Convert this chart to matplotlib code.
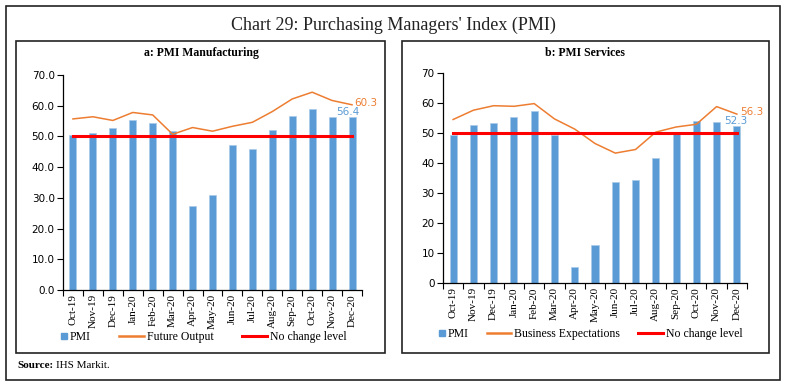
import matplotlib
matplotlib.use("Agg")
import matplotlib.pyplot as plt
import matplotlib.patches as mpatches
from matplotlib.lines import Line2D
from matplotlib.legend_handler import HandlerPatch

months = ["Oct-19", "Nov-19", "Dec-19", "Jan-20", "Feb-20", "Mar-20", "Apr-20",
          "May-20", "Jun-20", "Jul-20", "Aug-20", "Sep-20", "Oct-20", "Nov-20", "Dec-20"]

pmi_mfg = [50.6, 51.2, 52.7, 55.3, 54.5, 51.8, 27.4, 30.8, 47.2, 46.0, 52.0, 56.8, 58.9, 56.3, 56.4]
future_output = [55.7, 56.4, 55.2, 57.8, 57.0, 50.7, 52.9, 51.7, 53.3, 54.6, 58.1, 62.2, 64.4, 61.7, 60.3]

pmi_serv = [49.2, 52.7, 53.3, 55.5, 57.5, 49.3, 5.4, 12.6, 33.7, 34.2, 41.8, 49.8, 54.1, 53.7, 52.3]
business_exp = [54.5, 57.6, 59.1, 58.9, 59.8, 54.7, 51.3, 46.5, 43.3, 44.5, 50.3, 52.0, 52.9, 58.8, 56.3]

no_change = 50

BLUE = "#5B9BD5"
ORANGE = "#ED7D31"
RED = "#FF0000"
SERIF = "Liberation Serif"

W, H = 786, 389
fig = plt.figure(figsize=(W / 100, H / 100), dpi=100)


def box(x0, y0, x1, y1, lw=1.2):
    # pixel coords (top-left origin) -> figure fraction
    fig.patches.append(mpatches.Rectangle((x0 / W, 1 - y1 / H), (x1 - x0) / W, (y1 - y0) / H,
                                          transform=fig.transFigure, fill=False,
                                          edgecolor="#222222", linewidth=lw))


box(6, 6, 780, 380)
box(16, 41, 385, 353)
box(402, 41, 769, 353)

fig.text(393 / W, 1 - 25 / H, "Chart 29: Purchasing Managers' Index (PMI)", ha="center", va="center",
         fontsize=13, family=SERIF, color="#222222")
fig.text(201 / W, 1 - 53 / H, "a: PMI Manufacturing", ha="center", va="center",
         fontsize=8.5, family=SERIF, fontweight="bold")
fig.text(585 / W, 1 - 53 / H, "b: PMI Services", ha="center", va="center",
         fontsize=8.5, family=SERIF, fontweight="bold")
fig.text(17 / W, 1 - 366 / H, "Source:", ha="left", va="center",
         fontsize=8, family=SERIF, fontweight="bold")
fig.text(56 / W, 1 - 366 / H, "IHS Markit.", ha="left", va="center", fontsize=8, family=SERIF)


def square_handle(legend, orig_handle, xdescent, ydescent, width, height, fontsize):
    s = height * 0.75
    return mpatches.Rectangle((width - xdescent - s, -ydescent + (height - s) / 2), s, s)


def panel(rect, bars, line, line_name, fmt, bar_lab, line_lab, leg_y, colsp):
    ax = fig.add_axes(rect)
    x = list(range(len(months)))
    ax.bar(x, bars, width=0.35, color=BLUE, edgecolor="#A9CBEA", linewidth=0.5, label="PMI")
    ax.plot(x, line, color=ORANGE, lw=1.1, label=line_name)
    ax.plot([x[0], x[-1]], [no_change, no_change], color=RED, lw=2.2, label="No change level")
    ax.set_xlim(-0.5, len(months) - 0.5)
    ax.set_ylim(0, 70)
    ax.set_yticks(range(0, 71, 10))
    ax.set_yticklabels([fmt.format(v) for v in range(0, 71, 10)], fontsize=7.5, family="DejaVu Sans")
    ax.set_xticks(x)
    ax.set_xticklabels(months, rotation=90, fontsize=8, family=SERIF)
    ax.set_xticks([i - 0.5 for i in range(len(months) + 1)], minor=True)
    ax.tick_params(axis="x", which="major", length=0, pad=3)
    ax.tick_params(axis="x", which="minor", length=4, direction="out", width=0.8)
    ax.tick_params(axis="y", length=4, direction="out", width=0.8, pad=2)
    for s in ("top", "right"):
        ax.spines[s].set_visible(False)
    for s in ("left", "bottom"):
        ax.spines[s].set_linewidth(0.9)
    ax.text(x[-1] + bar_lab[0], bars[-1] + bar_lab[1], f"{bars[-1]:.1f}", color=BLUE,
            fontsize=7.5, ha="center", va="bottom", family="DejaVu Sans")
    ax.text(x[-1] + line_lab[0], line[-1] + line_lab[1], f"{line[-1]:.1f}", color=ORANGE,
            fontsize=7.5, ha="left", va="center", family="DejaVu Sans")
    handles = [mpatches.Patch(color=BLUE),
               Line2D([], [], color=ORANGE, lw=1.8),
               Line2D([], [], color=RED, lw=2.2)]
    ax.legend(handles, ["PMI", line_name, "No change level"], ncol=3, frameon=False,
              loc="center left", bbox_to_anchor=leg_y, prop={"family": SERIF, "size": 8.5},
              handlelength=2.1, handletextpad=0.25, columnspacing=colsp,
              handler_map={mpatches.Patch: HandlerPatch(patch_func=square_handle)})
    return ax


panel([63 / W, 1 - 290 / H, 299 / W, 215 / H], pmi_mfg, future_output, "Future Output",
      "{:.1f}", (-0.2, 0.0), (0.1, 0.6), (-0.105, -0.22), 2.4)
panel([443 / W, 1 - 283 / H, 304 / W, 210 / H], pmi_serv, business_exp, "Business Expectations",
      "{:.0f}", (-0.05, 0.0), (0.15, 0.8), (-0.11, -0.245), 1.5)

fig.savefig("out.png", dpi=100)
